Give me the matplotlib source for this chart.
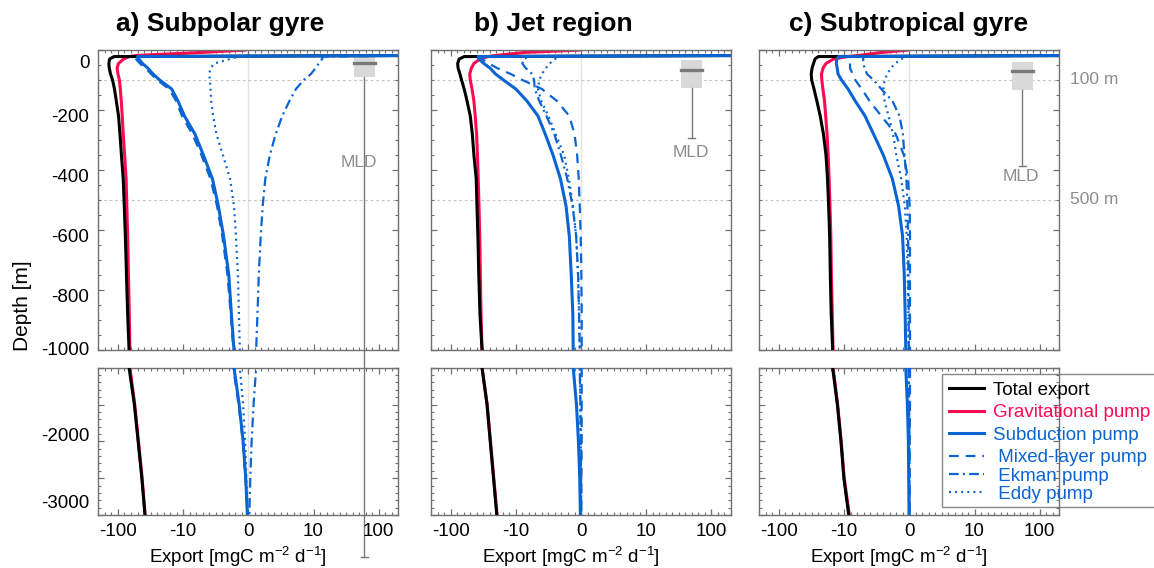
import numpy as np
import matplotlib
matplotlib.use('Agg')
import matplotlib.pyplot as plt
import matplotlib.transforms as mtransforms
from matplotlib.patches import Rectangle
from matplotlib.lines import Line2D

plt.rcParams['font.family'] = ['Liberation Sans', 'DejaVu Sans']
plt.rcParams['axes.unicode_minus'] = False
plt.rcParams['mathtext.fontset'] = 'custom'
plt.rcParams['mathtext.rm'] = 'Liberation Sans'
plt.rcParams['mathtext.it'] = 'Liberation Sans:italic'
plt.rcParams['lines.scale_dashes'] = False

BLACK = '#000000'
RED = '#FF0A50'
BLUE = '#0A64D2'
GRAY = '#8c8c8c'
FRAME = '#707070'

# ---- data (depth in m, export in mgC m-2 d-1; 1000 = off-scale surface values)
depth = [0, 8, 18, 22, 30, 45, 60, 80, 100, 130, 170, 220, 280, 350, 430, 520,
         620, 750, 880, 1000, 1500, 2000, 2500, 3000]

titles = ['a) Subpolar gyre', 'b) Jet region', 'c) Subtropical gyre']

total_a = [1000, 1000, 1000, -115, -134, -138, -136, -130, -121, -113, -106, -98, -93, -88.5,
           -83, -80, -77, -74, -71, -67.5, -56, -49, -43, -38.5]
grav_a = [-0.3, -7, -50, -67, -82, -98, -103, -100, -95, -92, -89, -86, -83, -79, -75, -73,
          -71, -69, -67, -65.5, -55.3, -48.5, -42.6, -38.3]
sub_a = [1000, 1000, 1000, -50, -48, -42, -35, -29, -23, -15, -12, -9.8, -8.2, -6.9, -5.5,
         -4.6, -3.8, -3.0, -2.6, -2.2, -1.4, -0.8, -0.4, -0.15]
mixed_a = [1000, 1000, 1000, -55, -53, -46, -38, -31, -25, -16.5, -12.8, -10.4, -8.6, -7.2,
           -5.8, -4.8, -4.0, -3.2, -2.7, -2.3, -1.5, -0.85, -0.45, -0.15]
ekman_a = [1000, 1000, 1000, 14, 13.5, 12, 10.8, 9.6, 8.5, 7.3, 6.3, 5.2, 4.2, 3.3, 2.6, 2.2,
           1.9, 1.6, 1.4, 1.2, 0.8, 0.5, 0.3, 0.15]
eddy_a = [1000, 1000, 1000, -1.5, -2.8, -5.2, -5.8, -6, -5.9, -5.8, -5.7, -5.4, -4.9, -3.9,
          -2.8, -2.2, -1.9, -1.6, -1.45, -1.3, -0.8, -0.5, -0.3, -0.1]

total_b = [1000, 1000, 1000, -62, -74, -78, -77, -72, -68, -62, -56, -50, -46.5, -44, -40.5,
           -39.5, -38.2, -37, -35.5, -33, -27.7, -24.7, -22, -19.6]
grav_b = [0, -8.5, -20, -27, -35.5, -44, -48, -51, -50, -47, -44, -42, -40, -38.8, -37.8,
          -36.7, -35.8, -35, -34.2, -33, -27.5, -24.5, -21.8, -19.4]
sub_b = [1000, 1000, 1000, -38, -37, -31, -25, -20.5, -15.5, -10, -8.3, -6.6, -5.5, -4.3,
         -3.15, -2.3, -1.8, -1.5, -1.26, -1.2, -0.7, -0.4, -0.2, -0.1]
mixed_b = [1000, 1000, 1000, -36, -33, -26, -19.5, -12, -9, -6, -3.7, -1.8, -1.0, -0.6,
           -0.35, -0.2, -0.05, 0.05, 0.1, 0.1, 0.1, 0.1, 0.05, 0.05]
ekman_b = [1000, 1000, 1000, -8, -8.8, -9, -8.5, -7.5, -7.2, -7.1, -6.4, -5.3, -4.1, -3.1,
           -2.1, -1.3, -0.75, -0.45, -0.3, -0.2, -0.1, -0.05, 0, 0]
eddy_b = [1000, 1000, 1000, -3, -4, -4.8, -5.4, -6, -6.4, -6.6, -6.1, -5, -3.9, -2.6,
          -1.85, -1.25, -0.75, -0.45, -0.3, -0.2, -0.1, -0.05, 0, 0]

total_c = [1000, 1000, 1000, -25, -28, -29.5, -31, -32, -31.5, -29, -26.2, -23.3, -20.8, -19,
           -18, -17.3, -16.7, -16.3, -15.8, -15, -12.7, -11.2, -10.1, -9.3]
grav_c = [0, -4.2, -7.7, -9.5, -14.5, -19, -21, -22.3, -22, -21.2, -20, -19.2, -18.3, -17.6,
          -17, -16.5, -16, -15.7, -15.2, -14.8, -12.6, -11.1, -10, -9.2]
sub_c = [1000, 1000, 1000, -12, -13, -13.2, -12.8, -12.4, -11, -9.4, -8.3, -6.8, -5.5, -4.0,
         -2.6, -1.65, -1.04, -0.78, -0.64, -0.55, -0.3, -0.15, -0.1, -0.05]
mixed_c = [1000, 1000, 1000, -9, -9.1, -9.1, -9.1, -8.7, -8.3, -7.3, -6.1, -4.3, -2.1, -0.85,
           -0.2, 0.05, 0.1, 0.1, 0.1, 0.1, 0.1, 0.05, 0.05, 0.05]
ekman_c = [1000, 1000, 1000, -7, -7.1, -7, -6.9, -6.5, -5.5, -4.3, -2.6, -1.5, -1.0, -0.75,
           -0.45, -0.3, -0.2, -0.15, -0.1, -0.1, -0.05, 0, 0, 0]
eddy_c = [1000, 1000, 1000, -0.5, -1.2, -2.2, -2.8, -3.4, -3.8, -4.0, -3.8, -3.2, -2.5, -2.0,
          -1.25, -0.7, -0.4, -0.25, -0.15, -0.12, -0.05, 0, 0, 0]

# mixed layer depth box stats per region: q1, median, q3, whisker max
mld_q1 = [23, 34, 40]
mld_median = [43, 66, 70]
mld_q3 = [90, 126, 134]
mld_max = [1690, 292, 387]

series = [
    [total_a, grav_a, sub_a, mixed_a, ekman_a, eddy_a],
    [total_b, grav_b, sub_b, mixed_b, ekman_b, eddy_b],
    [total_c, grav_c, sub_c, mixed_c, ekman_c, eddy_c],
]
labels = ['Total export', 'Gravitational pump', 'Subduction pump',
          ' Mixed-layer pump', ' Ekman pump', ' Eddy pump']
colors = [BLACK, RED, BLUE, BLUE, BLUE, BLUE]
styles = ['-', '-', '-', (0, (7, 5)), (0, (7, 3, 1.5, 3)), (0, (1.4, 3))]
widths = [2.2, 2.2, 2.2, 1.6, 1.6, 1.6]
order = [3, 2, 4, 4, 4, 4]   # black over red, blues on top

# MLD glyph placement (axes fraction in x)
mld_x = [0.887, 0.869, 0.876]
mld_text_x = [0.867, 0.866, 0.872]
mld_text_depth = [376, 343, 423]
title_x = [0.407, 0.408, 0.496]


def fwd(f):
    f = np.asarray(f, dtype=float)
    return np.where(np.abs(f) <= 1, 10 * f, np.sign(f) * 10 ** np.abs(f))


minor_x = fwd(np.arange(-23, 24) * 0.1)
major_x = [-100, -10, 0, 10, 100]

fig = plt.figure(figsize=(11.54, 5.68), dpi=100)
lefts = [0.0852, 0.3735, 0.658]
W = 0.26

for i in range(3):
    ax_t = fig.add_axes([lefts[i], 0.3838, W, 0.5282])
    ax_b = fig.add_axes([lefts[i], 0.0933, W, 0.2593])
    ax_b.patch.set_alpha(0)
    for ax in (ax_t, ax_b):
        ax.set_xscale('symlog', linthresh=10, linscale=0.9)
        ax.set_xlim(-200, 200)
        ax.axvline(0, color='#e3e3e3', lw=1, zorder=0)
        for k, vals in enumerate(series[i]):
            ax.plot(vals, -np.array(depth), color=colors[k], ls=styles[k], lw=widths[k],
                    zorder=order[k], solid_capstyle='butt')
        ax.set_xticks(major_x)
        ax.set_xticks(minor_x, minor=True)
        ax.tick_params(which='both', direction='in', top=True, right=True,
                       colors=FRAME, labelcolor='black', labelsize=13.5)
        ax.tick_params(which='major', length=4.5, width=0.9)
        ax.tick_params(which='minor', length=2.2, width=0.8)
        ax.tick_params(axis='x', pad=6)
        for s in ax.spines.values():
            s.set_color(FRAME)
            s.set_linewidth(1.0)

    ax_t.set_ylim(-1000, 0)
    ax_b.set_ylim(-3000, -1000)
    ax_t.set_yticks(np.arange(-1000, 1, 200))
    ax_t.set_yticks(np.arange(-1000, 1, 50), minor=True)
    ax_b.set_yticks(np.arange(-3000, -999, 500))
    ax_b.set_yticks(np.arange(-3000, -999, 100), minor=True)
    ax_t.set_yticklabels([])
    ax_b.set_yticklabels([])
    ax_t.set_xticklabels([])
    ax_b.set_xticklabels(['-100', '-10', '0', '10', '100'])

    for d in (100, 500):
        ax_t.axhline(-d, color='#c4c4c4', lw=0.8, ls=(0, (2, 2)), zorder=0)

    ax_t.set_title(titles[i], fontsize=19, fontweight='bold', pad=14, x=title_x[i])
    ax_b.set_xlabel('Export [mgC m$^{-2}$ d$^{-1}$]', fontsize=13.5, labelpad=3)
    ax_b.xaxis.set_label_coords(0.465, -0.2)

    # mixed layer depth box
    tr = mtransforms.blended_transform_factory(ax_t.transAxes, ax_t.transData)
    xc, bw, cw = mld_x[i], 0.07, 0.024
    ax_t.add_patch(Rectangle((xc - bw / 2, -mld_q3[i]), bw, mld_q3[i] - mld_q1[i],
                             transform=tr, facecolor='#d9d9d9', edgecolor='none', zorder=1))
    ax_t.plot([xc - bw / 2, xc + bw / 2], [-mld_median[i]] * 2, transform=tr,
              color='#7a7a7a', lw=2.4, zorder=1.5)
    ax_t.plot([xc, xc], [-mld_q3[i], -mld_max[i]], transform=tr, color='#7a7a7a',
              lw=1, clip_on=False, zorder=1.5)
    ax_t.plot([xc - cw / 2, xc + cw / 2], [-mld_max[i]] * 2, transform=tr,
              color='#7a7a7a', lw=1, clip_on=False, zorder=1.5)
    ax_t.text(mld_text_x[i], -mld_text_depth[i], 'MLD', transform=tr, color=GRAY,
              fontsize=12.5, ha='center', va='center', zorder=1.6)

    if i == 0:
        trl = mtransforms.blended_transform_factory(ax_t.transAxes, ax_t.transData)
        offs = {0: -10, -200: -5.4, -400: -5.4, -600: -5.4, -800: -5.4, -1000: -0.7}
        for v, dy in offs.items():
            t = mtransforms.offset_copy(trl, fig=fig, x=-6.5, y=dy, units='points')
            ax_t.text(0, v, str(v), transform=t, ha='right', va='center', fontsize=13.5)
        trb = mtransforms.blended_transform_factory(ax_b.transAxes, ax_b.transData)
        for v, dy in {-2000: 3.6, -3000: 8.6}.items():
            t = mtransforms.offset_copy(trb, fig=fig, x=-6.5, y=dy, units='points')
            ax_b.text(0, v, str(v), transform=t, ha='right', va='center', fontsize=13.5)
    if i == 2:
        trr = mtransforms.blended_transform_factory(ax_t.transAxes, ax_t.transData)
        ax_t.text(1.036, -100, '100 m', transform=trr, color=GRAY, fontsize=12.5, va='center')
        ax_t.text(1.036, -500, '500 m', transform=trr, color=GRAY, fontsize=12.5, va='center')

fig.text(23 / 1154, 1 - 306 / 568, 'Depth [m]', rotation=90, ha='center', va='center',
         fontsize=15)

# legend: two stacked groups inside one frame
handles = [Line2D([], [], color=c, ls=s, lw=w) for c, s, w in zip(colors, styles, widths)]
groups = [(slice(0, 3), 1 - 412.7 / 568, 0.29), (slice(3, 6), 1 - 476 / 568, 0.06)]
for sl, yc, sp in groups:
    leg = fig.legend(handles[sl], labels[sl], loc='center left',
                     bbox_to_anchor=(949 / 1154, yc), borderaxespad=0, borderpad=0,
                     fontsize=13.5, handlelength=1.87, handletextpad=0.48,
                     labelspacing=sp, frameon=False)
    for txt, c in zip(leg.get_texts(), colors[sl]):
        txt.set_color(c)
fig.patches.append(Rectangle((941.7 / 1154, 1 - 506.7 / 568), 0.25, (506.7 - 374.3) / 568,
                             transform=fig.transFigure, facecolor='white',
                             edgecolor='#888888', lw=1.0, zorder=-1, figure=fig))

fig.savefig('out.png', dpi=100)
